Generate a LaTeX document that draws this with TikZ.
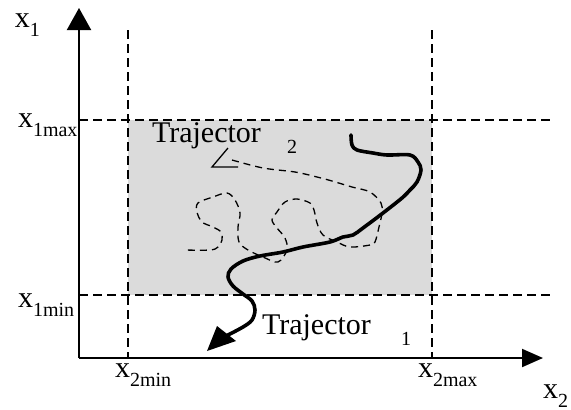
\documentclass[tikz,border=0pt]{standalone}
\usepackage{fontspec}
\setmainfont{Liberation Serif}
\usetikzlibrary{arrows.meta}
\newcommand\sublab[2]{#1\raisebox{-9pt}{\fontsize{20}{20}\selectfont #2}}
\tikzset{
  lab/.style={inner sep=0pt, outer sep=0pt, anchor=base west, font=\fontsize{30}{30}\selectfont},
  sublabel/.style={inner sep=0pt, outer sep=0pt, anchor=base west, font=\fontsize{20}{20}\selectfont},
  limit/.style={line width=1.9pt, dash pattern=on 8.5pt off 5.5pt},
  axis/.style={line width=2pt},
  traj one/.style={line width=3.6pt, line join=round, line cap=round},
  traj two/.style={line width=1.3pt, dash pattern=on 7pt off 5pt},
}
\begin{document}
\begin{tikzpicture}[x=1pt,y=-1pt]
\useasboundingbox (0,0) rectangle (571,410);
% region
\fill[black!14] (128,120) rectangle (432,295);
% limits
\coordinate (v1t) at (128,30); \coordinate (v1b) at (128,358);
\coordinate (v2t) at (432,30); \coordinate (v2b) at (432,358);
\coordinate (h1l) at (79,120); \coordinate (h1r) at (552,120);
\coordinate (h2l) at (79,295); \coordinate (h2r) at (552,295);
\draw[limit] (v1t) -- (v1b);
\draw[limit] (v2t) -- (v2b);
\draw[limit] (h1l) -- (h1r);
\draw[limit] (h2l) -- (h2r);
% axes
\coordinate (o) at (79,358);
\coordinate (ytip) at (79,8);
\coordinate (xtip) at (543,358);
\draw[axis,-{Triangle[length=22pt,width=24pt]}] (o) -- (ytip);
\draw[axis,-{Triangle[length=21pt,width=18pt]}] (o) -- (xtip);
% trajectory 2 (dashed)
\draw[traj two] plot[smooth, tension=0.55] coordinates {
 (232,160) (263,168) (295,172) (317,177) (332,181) (352,187) (370,192)
 (381,203) (382,213) (379,227) (375,242) (370,245) (350,247) (337,242)
 (323,235) (317,223) (314,210) (310,203) (297,199) (285,202) (277,212)
 (272,220) (277,228) (285,238) (287,250) (278,262) (263,257) (248,250)
 (239,242) (238,227) (240,213) (235,200) (227,193) (213,197) (198,203)
 (197,212) (202,222) (213,227) (221,232) (222,240) (218,247) (210,250)
 (183,250)};
\coordinate (a2a) at (228,148); \coordinate (a2t) at (212,167); \coordinate (a2b) at (238,167);
\draw[line width=1.3pt] (a2a) -- (a2t) -- (a2b);
% trajectory 1 (solid)
\draw[traj one] plot[smooth, tension=0.55] coordinates {
 (351,135) (352,145) (357,150) (373,153) (387,155) (410,155) (418,162)
 (421,170) (417,182) (410,190) (402,198) (383,213) (363,228) (353,235)
 (343,237) (330,242) (303,247) (283,252) (260,256) (243,261) (231,269)
 (228,277) (233,286) (243,294) (252,301) (255,310) (252,320) (243,327)
 (226,336)};
\coordinate (a1t) at (207,351); \coordinate (a1a) at (217,326); \coordinate (a1b) at (236,341);
\fill (a1t) -- (a1a) -- (a1b) -- cycle;
% labels
\node[lab] (lx1) at (15,27) {\sublab{x}{1}};
\node[lab] (lx1max) at (18,127) {\sublab{x}{1max}};
\node[lab] (lx1min) at (18,307) {\sublab{x}{1min}};
\node[lab] (lx2min) at (115,377) {\sublab{x}{2min}};
\node[lab] (lx2max) at (418,377) {\sublab{x}{2max}};
\node[lab] (lx2) at (543,398) {\sublab{x}{2}};
\node[lab] (t2) at (152,142) {Trajector};
\node[sublabel] (t2s) at (287,153) {2};
\node[lab] (t1) at (262,334) {Trajector};
\node[sublabel] (t1s) at (401,345) {1};
\end{tikzpicture}
\end{document}
